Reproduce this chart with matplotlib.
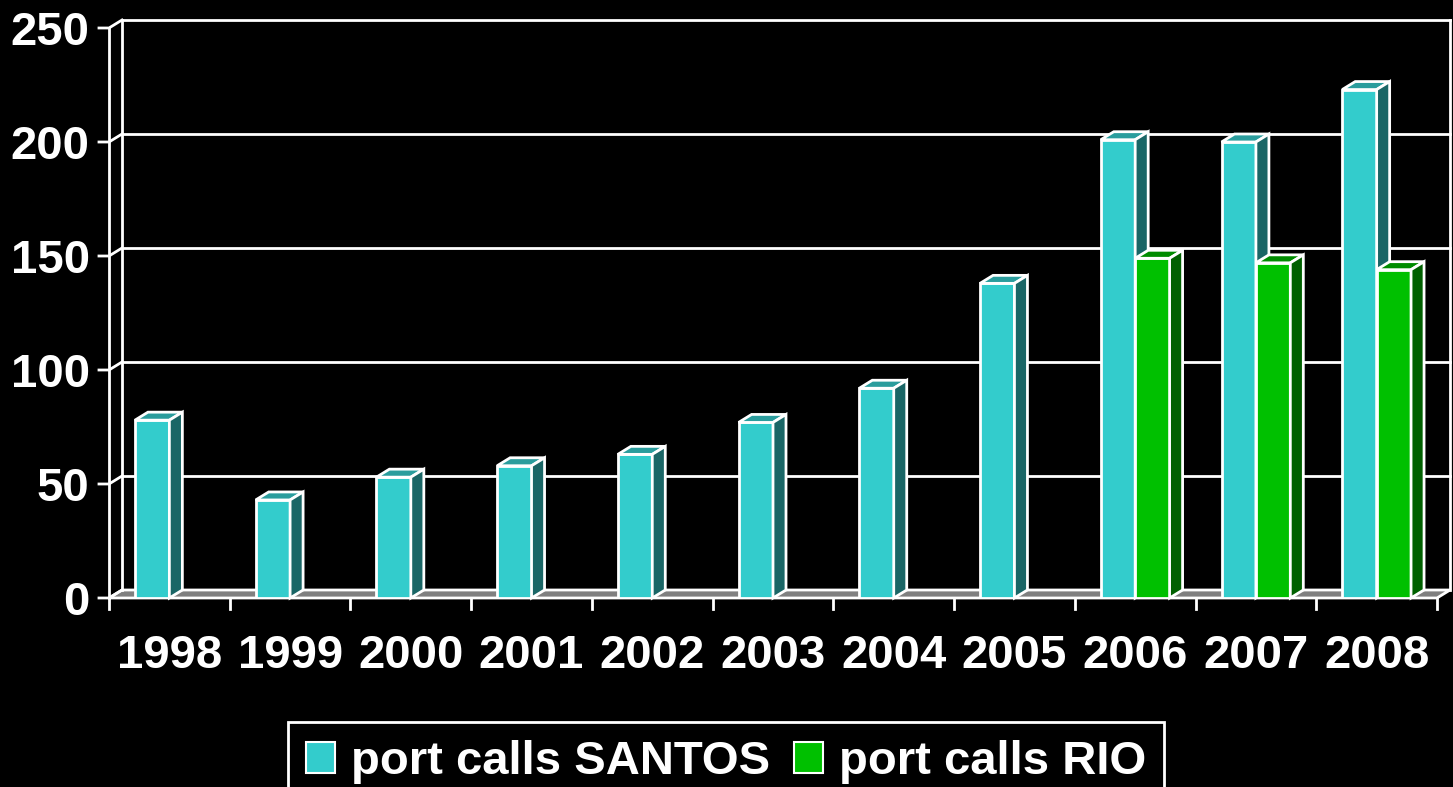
import matplotlib
matplotlib.use('Agg')
import matplotlib.pyplot as plt
from matplotlib.patches import Polygon, Patch

years = ['1998', '1999', '2000', '2001', '2002', '2003', '2004', '2005', '2006', '2007', '2008']
santos = [78, 43, 53, 58, 63, 77, 92, 138, 201, 200, 223]
rio = [0, 0, 0, 0, 0, 0, 0, 0, 149, 147, 144]
yticks = [0, 50, 100, 150, 200, 250]

SANTOS_FRONT, SANTOS_TOP, SANTOS_SIDE = '#33CCCC', '#2A9D9D', '#1A6666'
RIO_FRONT, RIO_TOP, RIO_SIDE = '#00C000', '#008C00', '#006000'
FLOOR = '#808080'

plt.rcParams['font.family'] = ['Liberation Sans', 'DejaVu Sans']

fig = plt.figure(figsize=(14.53, 7.87), dpi=100, facecolor='black')
ax = fig.add_axes([109 / 1453, 189 / 787, 1328 / 1453, 570 / 787])
ax.set_facecolor('none')
ax.set_xlim(0, len(years))
ax.set_ylim(0, 250)
ax.axis('off')

dx = 13 / 120.7   # depth offset in category units
dy = 8 / 2.28     # depth offset in value units
bw = 0.285
lw = 2
n = len(years)
ymax = yticks[-1]

# floor
ax.add_patch(Polygon([(0, 0), (n, 0), (n + dx, dy), (dx, dy)], closed=True,
                     facecolor=FLOOR, edgecolor='white', lw=lw, clip_on=False, zorder=1))

# walls and gridlines
ax.plot([0, 0], [0, ymax], color='white', lw=lw, clip_on=False, zorder=1)
ax.plot([dx, dx], [dy, ymax + dy], color='white', lw=lw, clip_on=False, zorder=1)
ax.plot([n + dx, n + dx], [dy, ymax + dy], color='white', lw=lw, clip_on=False, zorder=1)
for v in yticks:
    ax.plot([-0.083, 0, dx], [v, v, v + dy], color='white', lw=lw, clip_on=False, zorder=1)
    if v > 0:
        ax.plot([dx, n + dx], [v + dy, v + dy], color='white', lw=lw, clip_on=False, zorder=1)
    ax.text(-0.16, v - 7.6, str(v), color='white', fontsize=34, fontweight='bold',
            ha='right', va='baseline')

# x ticks and labels
for k in range(n + 1):
    ax.plot([k, k], [0, -4.8], color='white', lw=lw, clip_on=False, zorder=1)
for i, yr in enumerate(years):
    ax.text(i + 0.5, -30.5, yr, color='white', fontsize=34, fontweight='bold',
            ha='center', va='baseline')


def bar3d(x0, h, front, top, side):
    x1 = x0 + bw
    ax.bar(x0, h, width=bw, align='edge', color=front, edgecolor='white', lw=lw, zorder=3)
    ax.add_patch(Polygon([(x0, h), (x1, h), (x1 + dx, h + dy), (x0 + dx, h + dy)], closed=True,
                         facecolor=top, edgecolor='white', lw=lw, zorder=3, clip_on=False))
    ax.add_patch(Polygon([(x1, 0), (x1 + dx, dy), (x1 + dx, h + dy), (x1, h)], closed=True,
                         facecolor=side, edgecolor='white', lw=lw, zorder=3, clip_on=False))


for i in range(n):
    c = i + 0.5
    bar3d(c - bw, santos[i], SANTOS_FRONT, SANTOS_TOP, SANTOS_SIDE)
    if rio[i] > 0:
        bar3d(c, rio[i], RIO_FRONT, RIO_TOP, RIO_SIDE)

handles = [Patch(facecolor=SANTOS_FRONT, edgecolor='white', lw=1.5, label='port calls SANTOS'),
           Patch(facecolor=RIO_FRONT, edgecolor='white', lw=1.5, label='port calls RIO')]
leg = fig.legend(handles=handles, loc='center', bbox_to_anchor=(726 / 1453, 1 - 762 / 787),
                 ncol=2, frameon=True, fancybox=False, facecolor='black', edgecolor='white',
                 framealpha=1, prop={'size': 34, 'weight': 'bold'}, labelcolor='white',
                 handlelength=0.62, handleheight=0.62, handletextpad=0.33,
                 columnspacing=0.5, borderpad=0.38, borderaxespad=0)
leg.get_frame().set_linewidth(2)

fig.savefig('out.png', dpi=100, facecolor='black')
